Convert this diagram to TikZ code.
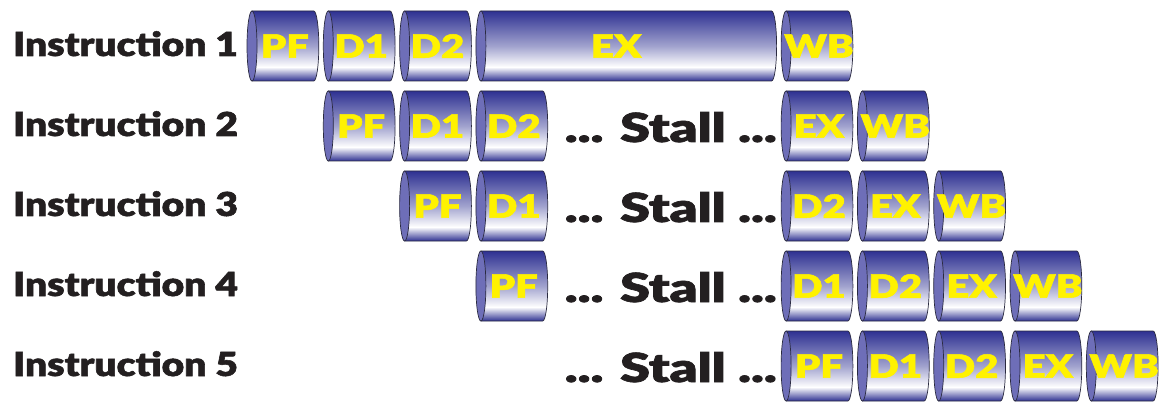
\documentclass[tikz,border=0pt]{standalone}
\usepackage{graphicx}
\usepackage{fontspec}
\newfontfamily\heavy[FakeBold=1.6]{Lato Black}
\definecolor{cdark}{HTML}{2E3192}
\definecolor{ccap}{HTML}{6E6EB8}
\definecolor{cyel}{HTML}{FFF200}
\definecolor{ctxt}{HTML}{231F20}
\definecolor{cline}{HTML}{2A2A40}
\pgfdeclareverticalshading{cylsh}{100bp}{color(0bp)=(cdark); color(25bp)=(cdark); color(29bp)=(cdark!60!white); color(35bp)=(white); color(50bp)=(cdark!45!white); color(75bp)=(cdark); color(100bp)=(cdark)}
\newcommand\widen[2]{\scalebox{#1}[1]{#2}}
\tikzset{
  stagelbl/.style={text=cyel, font=\heavy\fontsize{32}{32}\selectfont, inner sep=0pt},
  instlbl/.style={text=ctxt, font=\heavy\fontsize{33}{33}\selectfont, inner sep=0pt, anchor=base west},
  stalllbl/.style={text=ctxt, font=\heavy\fontsize{40}{40}\selectfont, inner sep=0pt, anchor=base east},
  cylbody/.style={shading=cylsh, draw=cline, line width=0.7pt},
  cylcap/.style={fill=ccap, draw=cline, line width=0.7pt},
}
% #1 name, #2 column, #3 span, #4 y centre, #5 label, #6 label x shift
\newcommand\stagecyl[6]{%
  \pgfmathsetmacro\xa{247+76.3*#2}%
  \pgfmathsetmacro\xb{\xa+76.3*#3-4.5}%
  \path[cylbody] (\xa+5,#4+35) -- (\xb-5,#4+35) arc[start angle=90, end angle=-90, x radius=5, y radius=35] -- (\xa+5,#4-35) -- cycle;
  \path[cylcap] (\xa+5,#4) ellipse [x radius=5, y radius=35];
  \node[stagelbl] (#1) at ({(\xa+\xb)/2+2+#6},#4) {\widen{1.25}{#5}};
}
\begin{document}
\begin{tikzpicture}[x=1pt,y=1pt]
\useasboundingbox (0,0) rectangle (1161,402);
% row centres (y up): 356, 276, 196, 116, 36
\node[instlbl] (i1) at (13,346) {\widen{1.18}{Instruction 1}};
\node[instlbl] (i2) at (13,266) {\widen{1.18}{Instruction 2}};
\node[instlbl] (i3) at (13,186) {\widen{1.18}{Instruction 3}};
\node[instlbl] (i4) at (13,106) {\widen{1.18}{Instruction 4}};
\node[instlbl] (i5) at (13,26) {\widen{1.18}{Instruction 5}};
% row 1
\stagecyl{r1pf}{0}{1}{356}{PF}{0}
\stagecyl{r1da}{1}{1}{356}{D1}{0}
\stagecyl{r1db}{2}{1}{356}{D2}{0}
\stagecyl{r1ex}{3}{4}{356}{EX}{-12}
\stagecyl{r1wb}{7}{1}{356}{WB}{0}
% row 2
\stagecyl{r2pf}{1}{1}{276}{PF}{0}
\stagecyl{r2da}{2}{1}{276}{D1}{0}
\stagecyl{r2db}{3}{1}{276}{D2}{0}
\node[stalllbl] (s2) at (777,260) {\widen{1.35}{... Stall ...}};
\stagecyl{r2ex}{7}{1}{276}{EX}{0}
\stagecyl{r2wb}{8}{1}{276}{WB}{0}
% row 3
\stagecyl{r3pf}{2}{1}{196}{PF}{0}
\stagecyl{r3da}{3}{1}{196}{D1}{0}
\node[stalllbl] (s3) at (777,180) {\widen{1.35}{... Stall ...}};
\stagecyl{r3db}{7}{1}{196}{D2}{0}
\stagecyl{r3ex}{8}{1}{196}{EX}{0}
\stagecyl{r3wb}{9}{1}{196}{WB}{0}
% row 4
\stagecyl{r4pf}{3}{1}{116}{PF}{0}
\node[stalllbl] (s4) at (777,100) {\widen{1.35}{... Stall ...}};
\stagecyl{r4da}{7}{1}{116}{D1}{0}
\stagecyl{r4db}{8}{1}{116}{D2}{0}
\stagecyl{r4ex}{9}{1}{116}{EX}{0}
\stagecyl{r4wb}{10}{1}{116}{WB}{0}
% row 5
\node[stalllbl] (s5) at (777,20) {\widen{1.35}{... Stall ...}};
\stagecyl{r5pf}{7}{1}{36}{PF}{0}
\stagecyl{r5da}{8}{1}{36}{D1}{0}
\stagecyl{r5db}{9}{1}{36}{D2}{0}
\stagecyl{r5ex}{10}{1}{36}{EX}{0}
\stagecyl{r5wb}{11}{1}{36}{WB}{0}
\end{tikzpicture}
\end{document}
